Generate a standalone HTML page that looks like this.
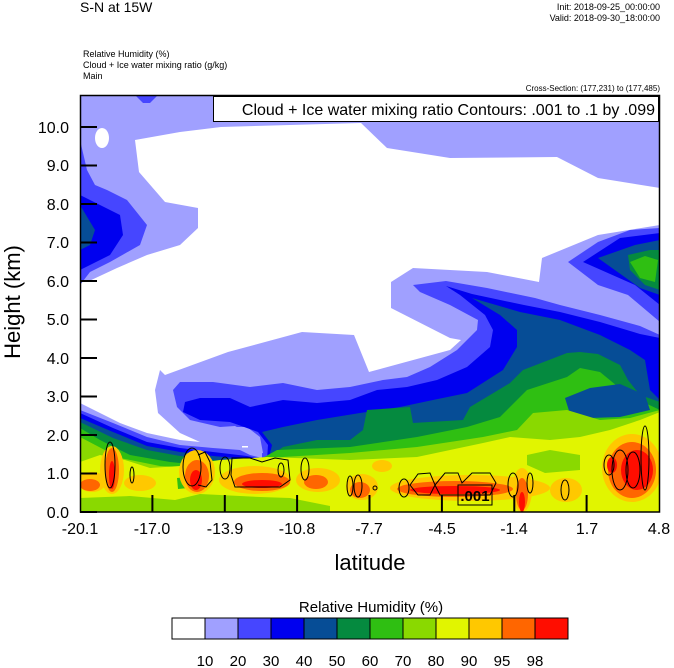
<!DOCTYPE html>
<html><head><meta charset="utf-8"><style>
body{margin:0;background:#fff;}
svg{display:block;font-family:"Liberation Sans",Arial,sans-serif;}
</style></head><body>
<svg width="674" height="668" viewBox="0 0 674 668" xmlns="http://www.w3.org/2000/svg">
<defs><clipPath id="c"><rect x="80" y="95" width="580" height="417"/></clipPath></defs>
<g clip-path="url(#c)">
<rect x="80" y="95" width="580" height="417" fill="#a0a0ff"/>
<polygon fill="#fff" points="135,140 180,132 221,127 361,123 387,148 450,158 557,157 598,178 660,188 660,225 598,235 542,258 539,282 487,272 413,268 391,282 391,308 450,338 461,340 450,350 369,372 354,335 302,332 228,352 165,375 160,370 155,390 158,413 180,433 200,442 180,440 147,433 120,423 100,413 80,403 80,282 87,282 117,268 147,255 180,245 198,228 198,208 165,202 139,172"/>
<ellipse cx="102" cy="138" rx="7" ry="10" fill="#fff"/>
<polygon fill="#4646ff" points="135,95 158,95 150,103 143,103"/>
<polygon fill="#4646ff" points="80,140 87,170 95,185 107,190 127,200 147,225 140,245 110,262 90,272 80,285"/>
<polygon fill="#0000ef" points="80,195 100,205 120,215 123,235 110,255 90,265 80,270"/>
<polygon fill="#064d96" points="80,205 95,230 90,245 80,250"/>
<polygon fill="#4646ff" points="568,262 598,242 630,230 660,228 660,322 628,295 598,285"/>
<polygon fill="#0000ef" points="583,262 620,238 660,233 660,305 635,285"/>
<polygon fill="#064d96" points="598,258 635,245 660,240 660,295 640,288"/>
<polygon fill="#058a3f" points="628,255 650,250 660,250 660,290 645,285 630,270"/>
<polygon fill="#2fbf12" points="630,262 645,256 658,260 655,282 640,278"/>
<!-- lower layers -->
<polygon fill="#4646ff" points="80,410 113,423 147,437 180,445 213,448 240,450 253,455 263,453 260,437 247,427 220,427 190,420 177,407 173,390 180,382 213,382 250,387 283,383 317,390 350,387 383,380 407,377 430,367 457,350 477,330 478,320 450,305 420,292 413,285 446,281 487,288 535,298 560,305 600,315 640,326 660,335 660,512 80,512"/>
<polygon fill="#0000ef" points="80,413 113,428 147,442 180,448 213,452 247,456 267,460 268,445 258,432 230,422 200,420 183,412 185,402 200,398 230,398 250,407 283,400 317,403 350,400 377,390 407,387 437,380 467,367 490,347 493,330 485,315 460,295 446,286 472,294 524,305 560,312 600,322 640,334 660,338 660,512 80,512"/>
<polygon fill="#a0a0ff" points="205,428 235,426 252,435 262,450 262,458 250,455 230,445"/>
<rect x="242" y="446" width="6" height="1.5" fill="#fff"/>
<polygon fill="#064d96" points="80,418 113,432 147,446 180,452 213,456 247,459 268,462 272,445 262,432 283,427 317,420 360,413 400,407 433,400 467,393 503,370 517,347 517,330 500,315 472,298 520,312 560,320 600,335 630,350 645,360 650,390 660,400 660,512 80,512"/>
<polygon fill="#058a3f" points="80,422 113,438 147,450 180,456 213,460 250,462 265,460 283,447 317,440 350,440 363,430 367,410 410,407 413,423 463,420 470,407 510,383 523,370 567,353 580,352 598,354 620,365 628,380 640,395 660,402 660,512 80,512"/>
<polygon fill="#2fbf12" points="80,428 100,440 130,455 170,462 210,466 250,465 277,450 350,447 417,437 467,427 500,417 527,390 567,377 580,368 600,372 628,395 660,410 660,512 80,512"/>
<polygon fill="#064d96" points="565,398 590,388 620,384 645,395 650,410 620,417 590,418 570,414"/>
<polygon fill="#8ad900" points="80,437 120,458 160,466 200,468 250,462 283,457 350,453 417,447 483,437 517,430 533,413 567,410 600,420 630,418 660,410 660,512 80,512"/>
<polygon fill="#e1f500" points="80,462 100,455 125,460 150,468 180,466 220,460 267,457 350,460 417,457 483,443 510,437 550,440 580,437 610,430 640,420 660,412 660,512 80,512"/>
<polygon fill="#8ad900" points="527,455 550,450 580,455 580,470 545,473 527,465"/>
<polygon fill="#8ad900" points="80,512 80,498 130,496 175,500 200,494 260,497 290,498 330,506 330,512"/>
<polygon fill="#2fbf12" points="177,478 187,477 188,488 178,489"/>
<!-- orange / red patches -->
<g fill="#ffc800">
<ellipse cx="92" cy="482" rx="14" ry="10"/>
<ellipse cx="112" cy="470" rx="12" ry="24"/>
<ellipse cx="140" cy="483" rx="16" ry="8"/>
<ellipse cx="197" cy="472" rx="18" ry="22"/>
<ellipse cx="255" cy="480" rx="36" ry="14"/>
<ellipse cx="318" cy="480" rx="22" ry="12"/>
<ellipse cx="362" cy="487" rx="16" ry="13"/>
<ellipse cx="382" cy="466" rx="10" ry="6"/>
<ellipse cx="470" cy="488" rx="80" ry="13"/>
<ellipse cx="522" cy="490" rx="10" ry="22"/>
<ellipse cx="566" cy="490" rx="16" ry="12"/>
<ellipse cx="632" cy="468" rx="30" ry="34"/>
</g>
<g fill="#ff6600">
<ellipse cx="90" cy="485" rx="10" ry="6"/>
<ellipse cx="112" cy="470" rx="7" ry="22"/>
<ellipse cx="197" cy="476" rx="12" ry="16"/>
<ellipse cx="262" cy="482" rx="28" ry="9"/>
<ellipse cx="316" cy="482" rx="12" ry="7"/>
<ellipse cx="360" cy="490" rx="10" ry="8"/>
<ellipse cx="455" cy="489" rx="58" ry="8"/>
<ellipse cx="522" cy="494" rx="6" ry="16"/>
<ellipse cx="632" cy="470" rx="24" ry="28"/>
</g>
<g fill="#ff0d00">
<ellipse cx="112" cy="475" rx="3" ry="14"/>
<ellipse cx="196" cy="480" rx="6" ry="10"/>
<ellipse cx="262" cy="484" rx="20" ry="4"/>
<ellipse cx="455" cy="490" rx="45" ry="4"/>
<ellipse cx="522" cy="502" rx="3" ry="10"/>
<ellipse cx="637" cy="470" rx="16" ry="20"/>
<ellipse cx="612" cy="465" rx="5" ry="8"/>
</g>
<g fill="none" stroke="#000" stroke-width="1">
<ellipse cx="110" cy="465" rx="5" ry="23"/>
<ellipse cx="132" cy="475" rx="2" ry="8"/>
<ellipse cx="192" cy="467" rx="9" ry="19"/>
<path d="M198,455 L205,452 L210,462 L212,480 L206,487 L198,485"/>
<ellipse cx="225" cy="468" rx="5" ry="11"/>
<path d="M232,458 L250,458 L262,462 L275,458 L288,460 L290,480 L280,487 L235,487 L231,475 Z"/>
<ellipse cx="281" cy="470" rx="3" ry="7"/>
<ellipse cx="305" cy="469" rx="4" ry="11"/>
<ellipse cx="350" cy="486" rx="3" ry="10"/>
<ellipse cx="358" cy="486" rx="4" ry="11"/>
<ellipse cx="375" cy="488" rx="2" ry="2"/>
<ellipse cx="404" cy="488" rx="5" ry="9"/>
<path d="M410,485 L418,474 L430,473 L435,485 L430,495 L418,495 Z"/>
<path d="M435,485 L445,473 L458,473 L462,483 L472,473 L490,473 L496,483 L490,495 L440,495 Z"/>
<ellipse cx="513" cy="485" rx="5" ry="12"/>
<ellipse cx="530" cy="483" rx="3" ry="10"/>
<ellipse cx="565" cy="490" rx="4" ry="10"/>
<ellipse cx="609" cy="465" rx="5" ry="10"/>
<ellipse cx="620" cy="470" rx="8" ry="20"/>
<ellipse cx="633" cy="470" rx="7" ry="18"/>
<ellipse cx="645" cy="458" rx="4" ry="32"/>
</g>
<rect x="458" y="485" width="34" height="20" fill="none" stroke="#000"/>
<text x="475" y="501" font-size="15" font-weight="bold" text-anchor="middle">.001</text>
</g>
<rect x="80.5" y="95.5" width="579" height="416.5" fill="none" stroke="#000" stroke-width="1.5"/>
<g stroke="#000" stroke-width="2">
<line x1="80" y1="512" x2="97" y2="512"/><line x1="80" y1="473.5" x2="97" y2="473.5"/><line x1="80" y1="435" x2="97" y2="435"/><line x1="80" y1="396.5" x2="97" y2="396.5"/><line x1="80" y1="358" x2="97" y2="358"/><line x1="80" y1="319.5" x2="97" y2="319.5"/><line x1="80" y1="281" x2="97" y2="281"/><line x1="80" y1="242.5" x2="97" y2="242.5"/><line x1="80" y1="204" x2="97" y2="204"/><line x1="80" y1="165.5" x2="97" y2="165.5"/><line x1="80" y1="127" x2="97" y2="127"/>
<line x1="152.4" y1="495" x2="152.4" y2="512"/><line x1="224.8" y1="495" x2="224.8" y2="512"/><line x1="297.1" y1="495" x2="297.1" y2="512"/><line x1="369.5" y1="495" x2="369.5" y2="512"/><line x1="441.9" y1="495" x2="441.9" y2="512"/><line x1="514.3" y1="495" x2="514.3" y2="512"/><line x1="586.6" y1="495" x2="586.6" y2="512"/>
</g>
<g font-size="16" text-anchor="end">
<text x="69" y="518">0.0</text><text x="69" y="479">1.0</text><text x="69" y="441">2.0</text><text x="69" y="402">3.0</text><text x="69" y="364">4.0</text><text x="69" y="325">5.0</text><text x="69" y="287">6.0</text><text x="69" y="248">7.0</text><text x="69" y="210">8.0</text><text x="69" y="171">9.0</text><text x="69" y="133">10.0</text>
</g>
<g font-size="16" text-anchor="middle">
<text x="80" y="534">-20.1</text><text x="152" y="534">-17.0</text><text x="225" y="534">-13.9</text><text x="297" y="534">-10.8</text><text x="369" y="534">-7.7</text><text x="442" y="534">-4.5</text><text x="514" y="534">-1.4</text><text x="587" y="534">1.7</text><text x="659" y="534">4.8</text>
</g>
<text x="370" y="570" font-size="22" text-anchor="middle">latitude</text>
<text transform="translate(20,302) rotate(-90)" font-size="22" text-anchor="middle">Height (km)</text>
<text x="80" y="12" font-size="14">S-N at 15W</text>
<text x="660" y="10" font-size="9" text-anchor="end">Init: 2018-09-25_00:00:00</text>
<text x="660" y="21" font-size="9" text-anchor="end">Valid: 2018-09-30_18:00:00</text>
<text x="83" y="57" font-size="9">Relative Humidity   (%)</text>
<text x="83" y="68" font-size="9">Cloud + Ice water mixing ratio   (g/kg)</text>
<text x="83" y="79" font-size="9">Main</text>
<text x="660" y="91" font-size="8" text-anchor="end">Cross-Section: (177,231) to (177,485)</text>
<rect x="213.5" y="96.5" width="445" height="25" fill="#fff" stroke="#000"/>
<text x="655" y="115" font-size="16" text-anchor="end">Cloud + Ice water mixing ratio Contours: .001 to .1 by .099</text>
<text x="371" y="612" font-size="15" text-anchor="middle">Relative Humidity  (%)</text>
<g stroke="#000" stroke-width="1">
<rect x="172" y="618" width="33" height="21" fill="#ffffff"/>
<rect x="205" y="618" width="33" height="21" fill="#a0a0ff"/>
<rect x="238" y="618" width="33" height="21" fill="#4646ff"/>
<rect x="271" y="618" width="33" height="21" fill="#0000ef"/>
<rect x="304" y="618" width="33" height="21" fill="#064d96"/>
<rect x="337" y="618" width="33" height="21" fill="#058a3f"/>
<rect x="370" y="618" width="33" height="21" fill="#2fbf12"/>
<rect x="403" y="618" width="33" height="21" fill="#8ad900"/>
<rect x="436" y="618" width="33" height="21" fill="#e1f500"/>
<rect x="469" y="618" width="33" height="21" fill="#ffc800"/>
<rect x="502" y="618" width="33" height="21" fill="#ff6600"/>
<rect x="535" y="618" width="33" height="21" fill="#ff0d00"/>
</g>
<g font-size="15" text-anchor="middle">
<text x="205" y="666">10</text><text x="238" y="666">20</text><text x="271" y="666">30</text><text x="304" y="666">40</text><text x="337" y="666">50</text><text x="370" y="666">60</text><text x="403" y="666">70</text><text x="436" y="666">80</text><text x="469" y="666">90</text><text x="502" y="666">95</text><text x="535" y="666">98</text>
</g>
</svg>
</body></html>
